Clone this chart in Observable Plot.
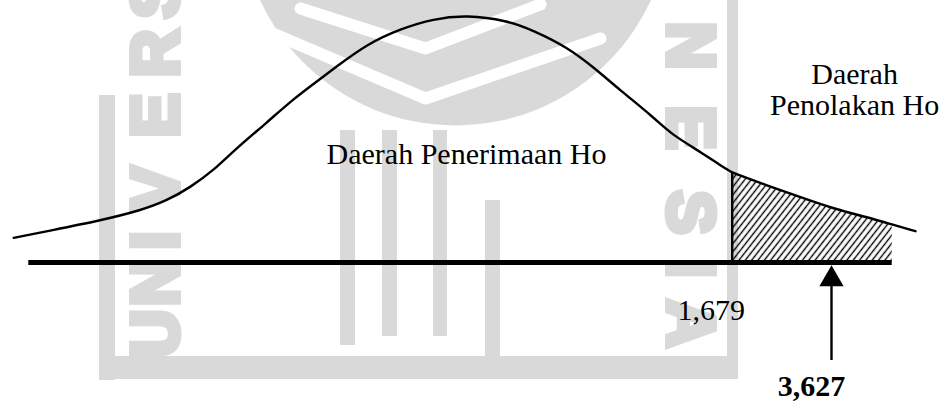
<!DOCTYPE html>
<html>
<head>
<meta charset="utf-8">
<script src="https://cdn.jsdelivr.net/npm/d3@7"></script>
<script src="https://cdn.jsdelivr.net/npm/@observablehq/plot@0.6"></script>
<style>
  html, body { margin: 0; padding: 0; background: #fff; }
  #chart { position: relative; width: 947px; height: 403px; overflow: hidden; }
  #chart > svg { position: absolute; left: 0; top: 0; }
</style>
</head>
<body>
<div id="chart"></div>
<script>
// ---- t distribution sketch: acceptance region up to the critical value ----
const curveT = [-2.861, -2.629, -2.313, -2.060, -1.891, -1.744, -1.599, -1.470, -1.259, -1.093,
                -0.923, -0.840, -0.627, -0.417, -0.209, 0, 0.257, 0.423, 0.636, 0.803,
                0.973, 1.182, 1.289, 1.498, 1.605, 1.679];
const curveDensity = [0.0399, 0.0517, 0.0679, 0.0840, 0.1002, 0.1217, 0.1487, 0.1810, 0.2267, 0.2646,
                      0.2969, 0.3131, 0.3535, 0.3777, 0.3939, 0.4000, 0.3911, 0.3749, 0.3480, 0.3156,
                      0.2780, 0.2348, 0.2080, 0.1757, 0.1568, 0.1455];

// right tail (rejection region) beyond the critical value
const tailT = [1.679, 2.366, 3.019, 3.672, 4.327, 4.818, 5.275];
const tailDensity = [0.1455, 0.1244, 0.1055, 0.0868, 0.0732, 0.0614, 0.0506];

// key values
const criticalT = 1.679;   // t table
const observedT = 3.627;   // t statistic
const valueLabels = ["1,679", "3,627"];

// horizontal axis extent
const axisStart = -2.766;
const axisEnd = 4.818;

// arrow below the axis pointing at the t statistic
const arrowTail = -0.1584;
const arrowHeadBase = -0.0372;
const arrowHeadCenter = -0.0270;

// region labels
const regionLabels = ["Daerah Penerimaan Ho", "Daerah\nPenolakan Ho"];
const regionLabelT = [0, 4.08];
const regionLabelDensity = [0.1595, 0.2376];
const valueLabelDensity = [-0.0926, -0.2165];

// ---- faint watermark (page units) ----
const wmGray = "#d9d9d9";
const wmBands = [
  {x1: 99, x2: 115, y1: 95, y2: 380},
  {x1: 99, x2: 738, y1: 356, y2: 379},
  {x1: 727, x2: 738, y1: 0, y2: 379},
  {x1: 340, x2: 355, y1: 130, y2: 345},
  {x1: 382, x2: 397, y1: 130, y2: 336},
  {x1: 433, x2: 447, y1: 130, y2: 336},
  {x1: 485, x2: 500, y1: 200, y2: 360}
];
const wmLetters = [
  {c: "U", x: 156, y: 333, r: -90}, {c: "N", x: 156, y: 282, r: -90},
  {c: "I", x: 156, y: 240, r: -90}, {c: "V", x: 156, y: 188, r: -90},
  {c: "E", x: 156, y: 115, r: -90}, {c: "R", x: 156, y: 53, r: -90},
  {c: "S", x: 156, y: -4, r: -90},
  {c: "N", x: 689, y: 45, r: 90}, {c: "E", x: 689, y: 127, r: 90},
  {c: "S", x: 689, y: 212, r: 90}, {c: "I", x: 689, y: 268, r: 90},
  {c: "A", x: 689, y: 323, r: 90}
];
const wmDisk = [{x: 455, y: -90}];
const wmChevrons = [
  {k: 0, x: 270, y: 32}, {k: 0, x: 425, y: 98}, {k: 0, x: 600, y: 38},
  {k: 1, x: 300, y: 8}, {k: 1, x: 425, y: 48}, {k: 1, x: 540, y: 4}
];

const chart = document.getElementById("chart");

const watermark = Plot.plot({
  width: 947,
  height: 403,
  margin: 0,
  x: {domain: [0, 947], range: [0, 947], axis: null},
  y: {domain: [0, 403], range: [0, 403], axis: null},
  marks: [
    Plot.dot(wmDisk, {x: "x", y: "y", r: 215, fill: wmGray, stroke: null}),
    Plot.line(wmChevrons, {x: "x", y: "y", z: "k", stroke: "#fff", strokeWidth: 12}),
    Plot.rect(wmBands, {x1: "x1", x2: "x2", y1: "y1", y2: "y2", fill: wmGray}),
    Plot.text(wmLetters, {x: "x", y: "y", text: "c", rotate: "r", fill: wmGray,
      stroke: wmGray, strokeWidth: 6, strokeLinejoin: "miter",
      fontSize: 66, fontWeight: "bold", fontFamily: "Liberation Sans",
      textAnchor: "middle", lineAnchor: "middle"})
  ]
});
chart.appendChild(watermark);

const curve = curveT.map((t, i) => ({t, d: curveDensity[i]}));
const tail = tailT.map((t, i) => ({t, d: tailDensity[i]}));
const hatched = tail.filter(p => p.t <= axisEnd);
const serif = "Liberation Serif, Times New Roman, serif";

const main = Plot.plot({
  width: 947,
  height: 403,
  margin: 0,
  style: {background: "transparent", overflow: "visible"},
  x: {type: "linear", domain: [0, criticalT, observedT], range: [466, 731.7, 831], axis: null},
  y: {domain: [0, 0.4], range: [262, 14.5], axis: null},
  marks: [
    // hatched rejection region
    Plot.areaY(hatched, {x: "t", y: "d", fill: "url(#hatch)", curve: "basis"}),
    // axis line
    Plot.ruleY([0], {x1: axisStart, x2: axisEnd, stroke: "#000", strokeWidth: 5}),
    // density curve
    Plot.line(curve, {x: "t", y: "d", curve: "basis", stroke: "#000", strokeWidth: 2.4}),
    Plot.line(tail, {x: "t", y: "d", curve: "basis", stroke: "#000", strokeWidth: 2.4}),
    // critical value boundary
    Plot.ruleX([criticalT], {y1: 0, y2: curveDensity[curveDensity.length - 1], stroke: "#000", strokeWidth: 2.4}),
    // arrow to the t statistic
    Plot.ruleX([observedT], {y1: arrowTail, y2: arrowHeadBase, stroke: "#000", strokeWidth: 2.4}),
    Plot.dot([observedT], {x: d => d, y: () => arrowHeadCenter, symbol: "triangle", r: 9, fill: "#000", stroke: null}),
    // labels
    Plot.text(regionLabels, {
      x: (d, i) => regionLabelT[i], y: (d, i) => regionLabelDensity[i], text: d => d,
      fontFamily: serif, fontSize: 30, fill: "#000", textAnchor: "middle",
      lineAnchor: "bottom", lineHeight: 1.06
    }),
    Plot.text([valueLabels[0]], {
      x: () => criticalT, y: () => valueLabelDensity[0], text: d => d, dx: -21,
      fontFamily: serif, fontSize: 30, fill: "#000", textAnchor: "middle", lineAnchor: "bottom"
    }),
    Plot.text([valueLabels[1]], {
      x: () => observedT, y: () => valueLabelDensity[1], text: d => d, dx: -20,
      fontFamily: serif, fontSize: 30, fontWeight: "bold", fill: "#000", textAnchor: "middle", lineAnchor: "bottom"
    })
  ]
});

// diagonal hatch pattern for the rejection region
const defs = d3.select(main).insert("defs", ":first-child");
const pattern = defs.append("pattern")
  .attr("id", "hatch")
  .attr("patternUnits", "userSpaceOnUse")
  .attr("width", 5)
  .attr("height", 10)
  .attr("patternTransform", "rotate(38)");
pattern.append("line")
  .attr("x1", 2.5).attr("y1", 0).attr("x2", 2.5).attr("y2", 10)
  .attr("stroke", "#000").attr("stroke-width", 1.4);

chart.appendChild(main);
</script>
</body>
</html>
